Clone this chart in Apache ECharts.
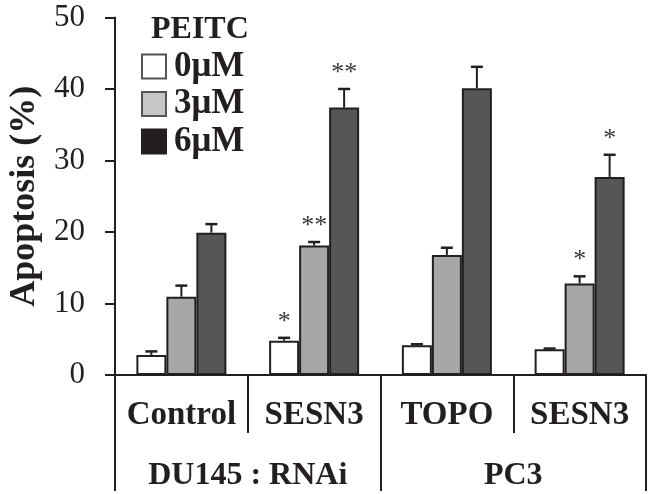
<!DOCTYPE html>
<html>
<head>
<meta charset="utf-8">
<script src="https://cdn.jsdelivr.net/npm/echarts@6/dist/echarts.min.js"></script>
<style>html,body{margin:0;padding:0;background:#fff}#c{width:649px;height:494px}</style>
</head>
<body>
<div id="c"></div>
<script>
const categories = ['Control', 'SESN3', 'TOPO', 'SESN3'];
const groups = ['DU145 : RNAi', 'PC3'];
const seriesNames = ['0μM', '3μM', '6μM'];
const values0 = [2.8, 4.8, 4.15, 3.6];
const errTop0 = [3.3, 5.2, 4.3, 3.7];
const values3 = [10.95, 18.1, 16.8, 12.8];
const errTop3 = [12.5, 18.6, 17.8, 13.8];
const values6 = [19.9, 37.4, 40.1, 27.7];
const errTop6 = [21.1, 40.0, 43.1, 30.8];
const sig0 = ['', '*', '', ''];
const sig3 = ['', '**', '', '*'];
const sig6 = ['', '**', '', '*'];
const yTicks = [0, 10, 20, 30, 40, 50];

const FONT = "'Liberation Serif','Times New Roman',serif";
const BORDER = '#231f20';
const colors = ['#ffffff', '#a7a7a7', '#555657'];
const legendColors = ['#ffffff', '#c6c6c6', '#231f20'];
const BAR_W = 30;

const allVals = [values0, values3, values6];
const allErr = [errTop0, errTop3, errTop6];
const allSig = [sig0, sig3, sig6];

const chart = echarts.init(document.getElementById('c'), null, {renderer: 'canvas'});

const series = [];
seriesNames.forEach((name, s) => {
  series.push({
    name: name,
    type: 'bar',
    barWidth: BAR_W,
    barGap: '0%',
    itemStyle: {color: colors[s], borderColor: BORDER, borderWidth: 2},
    data: allVals[s],
    z: 2
  });
});
seriesNames.forEach((name, s) => {
  const offset = (s - 1) * BAR_W;
  series.push({
    type: 'custom',
    name: name + '_err',
    z: 3,
    silent: true,
    data: allVals[s].map((v, i) => [i, v, allErr[s][i]]),
    renderItem: function (params, api) {
      const i = api.value(0);
      const base = api.coord([i, api.value(1)]);
      const top = api.coord([i, api.value(2)]);
      const x = base[0] + offset;
      const sigText = allSig[s][i];
      const children = [
        {type: 'line', shape: {x1: x, y1: base[1], x2: x, y2: top[1]}, style: {stroke: BORDER, lineWidth: 2}},
        {type: 'line', shape: {x1: x - 6, y1: top[1], x2: x + 6, y2: top[1]}, style: {stroke: BORDER, lineWidth: 2.5}}
      ];
      if (sigText) {
        children.push({type: 'text', style: {text: sigText, x: x, y: top[1] - 3, align: 'center', verticalAlign: 'bottom', font: "26px " + FONT, fill: '#3a3a3a'}});
      }
      return {type: 'group', children: children};
    }
  });
});

const option = {
  animation: false,
  backgroundColor: '#fff',
  title: {
    text: 'PEITC', left: 146, top: 9,
    textStyle: {fontFamily: FONT, fontWeight: 'bold', fontSize: 32, color: BORDER}
  },
  legend: {
    data: seriesNames.map((n, s) => ({name: n, itemStyle: {color: legendColors[s], borderColor: s === 2 ? BORDER : '#555', borderWidth: 2}})),
    orient: 'vertical', left: 141, top: 49, padding: 0, icon: 'rect',
    itemWidth: 24, itemHeight: 24, itemGap: 2.5,
    textStyle: {fontFamily: FONT, fontWeight: 'bold', fontSize: 35, color: BORDER, padding: [0, 0, 0, 3]},
    selectedMode: false
  },
  grid: {left: 115, right: 3, top: 17.5, bottom: 119, containLabel: false, outerBoundsMode: 'none'},
  xAxis: [
    {
      type: 'category', data: categories, position: 'bottom',
      axisLine: {show: true, lineStyle: {color: BORDER, width: 2}},
      axisTick: {show: true, interval: 0, length: 58, lineStyle: {color: BORDER, width: 2}},
      axisLabel: {interval: 0, hideOverlap: false, fontFamily: FONT, fontWeight: 'bold', fontSize: 33, color: BORDER, margin: 24}
    },
    {
      type: 'category', data: groups, position: 'bottom', gridIndex: 0,
      axisLine: {show: false},
      axisTick: {show: true, interval: 0, length: 116, lineStyle: {color: BORDER, width: 2}},
      axisLabel: {interval: 0, hideOverlap: false, fontFamily: FONT, fontWeight: 'bold', fontSize: 32, color: BORDER, margin: 85}
    }
  ],
  yAxis: {
    type: 'value', min: yTicks[0], max: yTicks[yTicks.length - 1], interval: 10,
    name: 'Apoptosis (%)', nameLocation: 'middle', nameGap: 67,
    nameTextStyle: {fontFamily: FONT, fontWeight: 'bold', fontSize: 36, color: BORDER},
    axisLine: {show: true, lineStyle: {color: BORDER, width: 2}},
    axisTick: {show: true, length: 10, lineStyle: {color: BORDER, width: 2}},
    axisLabel: {fontFamily: FONT, fontSize: 31, color: BORDER, margin: 30},
    splitLine: {show: false}
  },
  series: series
};
chart.setOption(option);
</script>
</body>
</html>
